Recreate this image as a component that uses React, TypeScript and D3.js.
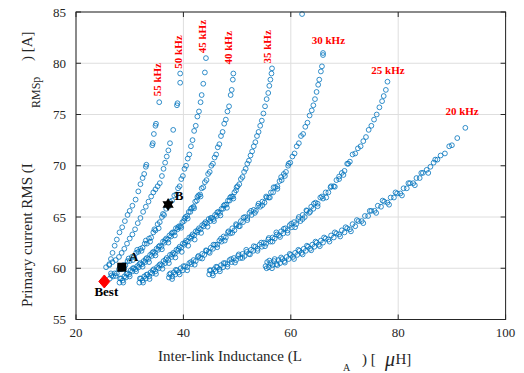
import React from 'react';
import * as d3 from 'd3';

const W = 524;
const H = 373;

const xTicks = [20, 40, 60, 80, 100];
const yTicks = [55, 60, 65, 70, 75, 80, 85];

type P = [number, number];

const f20: P[] = [
  [55.3, 60.2], [55.6, 60.6], [55.9, 60.1], [56.2, 60.5], [56.6, 60.3], [56.9, 60.7], [57.3, 60.4], [57.7, 60.8],
  [58.0, 60.5], [58.4, 60.9], [58.8, 60.7], [59.2, 61.1], [59.6, 60.9], [60.0, 61.3], [60.4, 61.1], [60.8, 61.5],
  [61.2, 61.3], [61.6, 61.7], [62.0, 61.5], [62.4, 61.9], [62.8, 61.7], [63.2, 62.1], [63.6, 61.9], [64.0, 62.3],
  [64.4, 62.1], [64.8, 62.5], [65.2, 62.3], [65.6, 62.7], [66.0, 62.5], [66.5, 62.9], [67.0, 62.8], [67.5, 63.2],
  [68.0, 63.0], [68.5, 63.4], [69.0, 63.3], [69.5, 63.7], [70.0, 63.5], [70.5, 63.9], [71.0, 63.8], [71.5, 64.3],
  [72.0, 64.1], [72.6, 64.6], [73.2, 64.6], [73.8, 65.1], [74.4, 65.1], [75.0, 65.6], [75.6, 65.6], [76.2, 66.1],
  [76.8, 66.0], [77.4, 66.5], [78.0, 66.4], [78.6, 66.9], [79.2, 66.9], [79.8, 67.3], [80.4, 67.3], [81.0, 67.8],
  [81.6, 67.8], [82.2, 68.3], [82.8, 68.3], [83.4, 68.8], [84.0, 68.8], [84.6, 69.3], [85.3, 69.6], [86.0, 69.9],
  [86.6, 70.3], [87.3, 70.6], [87.9, 71.0], [88.7, 71.2], [89.5, 71.9], [90.0, 72.0], [91.0, 72.7], [92.5, 73.7],
  [55.5, 60.0], [56.0, 60.75], [56.5, 60.0], [57.0, 60.9], [57.5, 60.3], [58.2, 61.05], [58.9, 60.55], [59.8, 61.4],
  [60.6, 60.9], [61.4, 61.8], [62.2, 61.35], [63.0, 62.2], [63.8, 61.75], [64.6, 62.6], [65.4, 62.15], [66.2, 63.0],
  [67.2, 62.6], [68.2, 63.5], [69.2, 63.1], [70.2, 64.0], [71.2, 63.6], [72.3, 64.7], [73.5, 64.4], [74.7, 65.6],
  [75.9, 65.4], [77.1, 66.6], [78.3, 66.2], [79.5, 67.4], [80.7, 67.1], [81.9, 68.3], [83.1, 68.1], [84.3, 69.3],
  [85.6, 69.3], [86.9, 70.6],
];

const f25: P[] = [
  [44.8, 59.4], [45.1, 59.8], [45.4, 59.5], [45.7, 59.9], [46.0, 59.7], [46.3, 60.1], [46.7, 59.9], [47.0, 60.3],
  [47.4, 60.1], [47.8, 60.5], [48.2, 60.4], [48.6, 60.8], [49.0, 60.6], [49.4, 61.0], [49.8, 60.8], [50.2, 61.2],
  [50.6, 61.0], [51.0, 61.4], [51.4, 61.2], [51.8, 61.6], [52.2, 61.4], [52.6, 61.8], [53.0, 61.7], [53.4, 62.1],
  [53.8, 61.9], [54.2, 62.3], [54.6, 62.1], [55.0, 62.5], [55.4, 62.4], [55.8, 62.8], [56.2, 62.6], [56.6, 63.0],
  [57.0, 62.9], [57.4, 63.3], [57.8, 63.2], [58.2, 63.6], [58.6, 63.4], [59.0, 63.9], [59.4, 63.7], [59.8, 64.2],
  [60.2, 64.0], [60.6, 64.5], [61.0, 64.3], [61.4, 64.8], [61.8, 64.6], [62.2, 65.2], [62.6, 65.0], [63.0, 65.6],
  [63.4, 65.4], [63.8, 66.0], [64.2, 65.8], [64.6, 66.4], [65.0, 66.3], [65.5, 66.9], [66.0, 66.8], [66.5, 67.4],
  [67.0, 67.4], [67.5, 68.0], [68.0, 68.0], [68.5, 68.6], [69.0, 68.7], [69.5, 69.3], [70.0, 69.5], [70.5, 70.2],
  [71.0, 70.4], [71.5, 71.1], [72.0, 71.2], [72.5, 71.7], [73.0, 71.9], [73.5, 72.4], [74.0, 72.8], [74.5, 73.5],
  [75.0, 73.9], [75.5, 74.5], [76.0, 75.0], [76.5, 75.7], [77.0, 76.3], [77.3, 76.8], [77.7, 77.4], [78.0, 78.2],
  [44.9, 59.8], [45.5, 59.3], [46.1, 60.15], [46.8, 59.7], [47.5, 60.5], [48.2, 60.15], [48.9, 60.9], [49.6, 60.55],
  [50.3, 61.35], [51.0, 61.0], [51.7, 61.8], [52.4, 61.35], [53.1, 62.15], [53.8, 61.7], [54.5, 62.5], [55.2, 62.15],
  [55.9, 62.95], [56.6, 62.6], [57.3, 63.5], [58.0, 63.05], [58.7, 63.85], [59.4, 63.45], [60.1, 64.35], [60.8, 64.0],
  [61.5, 65.0], [62.2, 64.8], [62.9, 65.65], [63.6, 65.5], [64.3, 66.3], [65.0, 66.05], [65.8, 67.0], [66.6, 66.9],
  [67.4, 67.9], [68.2, 67.95], [69.0, 68.95], [69.8, 69.1], [70.7, 70.2],
];

const f30: P[] = [
  [37.3, 59.1], [37.6, 59.5], [37.9, 59.2], [38.2, 59.6], [38.5, 59.4], [38.8, 59.8], [39.1, 59.6], [39.5, 60.0],
  [39.9, 59.8], [40.3, 60.2], [40.7, 60.1], [41.1, 60.5], [41.5, 60.4], [41.9, 60.8], [42.3, 60.7], [42.7, 61.1],
  [43.1, 61.0], [43.5, 61.4], [43.9, 61.3], [44.3, 61.7], [44.7, 61.6], [45.1, 62.0], [45.5, 61.9], [45.9, 62.3],
  [46.3, 62.3], [46.7, 62.7], [47.1, 62.6], [47.5, 63.1], [47.9, 63.0], [48.3, 63.5], [48.7, 63.4], [49.1, 63.9],
  [49.5, 63.7], [49.9, 64.2], [50.3, 64.1], [50.7, 64.6], [51.1, 64.5], [51.5, 65.0], [51.9, 64.9], [52.3, 65.4],
  [52.7, 65.2], [53.1, 65.7], [53.5, 65.6], [53.9, 66.1], [54.3, 66.0], [54.7, 66.5], [55.1, 66.4], [55.5, 66.9],
  [55.9, 66.9], [56.3, 67.4], [56.7, 67.4], [57.1, 67.9], [57.5, 68.0], [57.9, 68.5], [58.3, 68.6], [58.7, 69.2],
  [59.1, 69.4], [59.5, 70.0], [59.9, 70.3], [60.3, 70.9], [60.7, 71.2], [61.1, 71.9], [61.5, 72.2], [61.9, 72.9],
  [62.3, 73.1], [62.7, 73.8], [63.1, 74.2], [63.5, 74.9], [63.9, 75.4], [64.2, 75.9], [64.5, 76.5], [64.8, 77.2],
  [65.1, 77.9], [65.3, 78.4], [65.6, 79.2], [65.8, 79.7], [66.0, 80.8], [66.0, 81.0], [62.1, 84.8],
  [37.4, 59.4], [37.9, 58.95], [38.6, 59.85], [39.3, 59.4], [40.0, 60.2], [40.7, 59.8], [41.4, 60.6], [42.1, 60.35],
  [42.8, 61.2], [43.5, 60.95], [44.2, 61.75], [44.9, 61.5], [45.6, 62.3], [46.3, 62.05], [47.0, 62.9], [47.7, 62.7],
  [48.4, 63.6], [49.1, 63.45], [49.8, 64.3], [50.5, 64.1], [51.2, 64.95], [51.9, 64.7], [52.6, 65.6], [53.3, 65.4],
  [54.0, 66.3], [54.7, 66.15], [55.4, 67.0], [56.1, 66.9], [56.8, 67.9], [57.5, 67.75], [58.2, 68.9], [58.9, 69.0],
  [59.6, 70.2],
];

const f35: P[] = [
  [31.8, 58.6], [32.1, 59.0], [32.4, 58.8], [32.7, 59.2], [33.0, 59.0], [33.3, 59.4], [33.6, 59.2], [33.9, 59.6],
  [34.2, 59.5], [34.5, 59.9], [34.8, 59.7], [35.1, 60.1], [35.4, 60.0], [35.7, 60.4], [36.0, 60.3], [36.3, 60.7],
  [36.6, 60.5], [36.9, 61.0], [37.2, 60.8], [37.5, 61.3], [37.8, 61.1], [38.1, 61.5], [38.4, 61.4], [38.7, 61.8],
  [39.0, 61.7], [39.3, 62.1], [39.6, 62.0], [39.9, 62.4], [40.2, 62.3], [40.5, 62.7], [40.8, 62.6], [41.1, 63.0],
  [41.4, 62.9], [41.7, 63.3], [42.0, 63.2], [42.3, 63.6], [42.6, 63.5], [42.9, 63.9], [43.2, 63.8], [43.5, 64.2],
  [43.8, 64.1], [44.1, 64.5], [44.4, 64.4], [44.7, 64.8], [45.0, 64.6], [45.3, 64.9], [45.6, 64.8], [45.9, 65.2],
  [46.2, 65.1], [46.5, 65.5], [46.8, 65.4], [47.1, 65.8], [47.4, 65.8], [47.7, 66.2], [48.0, 66.2], [48.3, 66.6],
  [48.6, 66.6], [48.9, 67.0], [49.2, 67.0], [49.5, 67.4], [49.8, 67.6], [50.1, 68.0], [50.4, 68.2], [50.7, 68.7],
  [51.0, 68.9], [51.3, 69.4], [51.6, 69.7], [51.9, 70.2], [52.2, 70.5], [52.5, 71.0], [52.8, 71.4], [53.1, 71.9],
  [53.4, 72.3], [53.7, 72.9], [54.0, 73.3], [54.3, 73.9], [54.6, 74.4], [54.9, 75.1], [55.2, 75.8], [55.5, 76.5],
  [55.8, 77.1], [56.0, 77.8], [56.2, 78.4], [56.4, 79.0], [56.5, 79.5],
  [31.9, 59.0], [32.5, 58.6], [33.1, 59.35], [33.7, 58.95], [34.3, 59.8], [34.9, 59.45], [35.5, 60.3], [36.1, 59.95],
  [36.7, 60.85], [37.3, 60.5], [37.9, 61.35], [38.5, 61.05], [39.1, 61.9], [39.7, 61.6], [40.3, 62.5], [40.9, 62.2],
  [41.5, 63.1], [42.1, 62.8], [42.7, 63.7], [43.3, 63.45], [43.9, 64.35], [44.5, 64.05], [45.1, 64.9], [45.7, 64.6],
  [46.3, 65.45], [46.9, 65.15], [47.5, 66.1], [48.1, 65.9], [48.7, 66.9], [49.3, 66.8], [49.9, 67.9],
];

const f40: P[] = [
  [28.1, 58.6], [28.4, 59.0], [28.7, 58.8], [29.0, 59.2], [29.3, 59.1], [29.6, 59.5], [29.9, 59.4], [30.2, 59.8],
  [30.5, 59.7], [30.8, 60.0], [31.1, 59.9], [31.4, 60.2], [31.7, 60.1], [32.0, 60.5], [32.3, 60.4], [32.6, 60.7],
  [32.9, 60.6], [33.2, 61.0], [33.5, 60.9], [33.8, 61.3], [34.1, 61.2], [34.4, 61.6], [34.7, 61.5], [35.0, 61.9],
  [35.3, 61.8], [35.6, 62.2], [35.9, 62.1], [36.2, 62.6], [36.5, 62.5], [36.8, 62.9], [37.1, 62.8], [37.4, 63.2],
  [37.7, 63.1], [38.0, 63.5], [38.3, 63.5], [38.6, 63.9], [38.9, 63.8], [39.2, 64.1], [39.5, 64.1], [39.8, 64.5],
  [40.1, 64.6], [40.4, 65.0], [40.7, 65.1], [41.0, 65.5], [41.3, 65.5], [41.6, 65.9], [41.9, 66.0], [42.2, 66.5],
  [42.5, 66.6], [42.8, 67.1], [43.1, 67.2], [43.4, 67.8], [43.7, 67.9], [44.0, 68.4], [44.3, 68.6], [44.6, 69.2],
  [44.9, 69.4], [45.2, 70.0], [45.5, 70.2], [45.8, 70.8], [46.1, 71.1], [46.4, 71.8], [46.7, 72.1], [47.0, 72.9],
  [47.3, 73.3], [47.6, 74.1], [47.9, 74.5], [48.2, 75.3], [48.5, 75.8], [48.8, 76.9], [49.0, 77.4], [49.2, 78.4],
  [49.3, 79.0],
  [28.2, 59.0], [28.8, 58.6], [29.4, 59.45], [30.0, 59.2], [30.6, 60.0], [31.2, 59.7], [31.8, 60.4], [32.4, 60.15],
  [33.0, 60.9], [33.6, 60.6], [34.2, 61.5], [34.8, 61.25], [35.4, 62.1], [36.0, 61.85], [36.6, 62.75], [37.2, 62.5],
  [37.8, 63.4], [38.4, 63.2], [39.0, 64.0], [39.6, 63.95], [40.2, 64.85], [40.8, 64.85], [41.4, 65.8], [42.0, 65.85],
  [42.6, 66.95], [43.2, 67.0],
];

const f45: P[] = [
  [26.3, 59.0], [26.6, 59.3], [26.9, 59.2], [27.2, 59.5], [27.6, 59.5], [28.0, 59.9], [28.4, 59.9], [28.8, 60.3],
  [29.2, 60.3], [29.6, 60.7], [30.0, 60.7], [30.4, 61.1], [30.8, 61.1], [31.2, 61.5], [31.6, 61.6], [32.0, 61.9],
  [32.4, 62.0], [32.8, 62.4], [33.2, 62.4], [33.6, 62.9], [34.0, 63.0], [34.4, 63.5], [34.8, 63.7], [35.2, 64.3],
  [35.6, 64.5], [36.0, 65.0], [36.4, 65.2], [36.8, 65.8], [37.2, 66.0], [37.5, 66.5], [37.9, 66.6], [38.3, 67.1],
  [38.7, 67.2], [39.0, 67.8], [39.3, 68.0], [39.6, 68.7], [39.9, 69.0], [40.2, 69.7], [40.5, 70.0], [40.8, 70.7],
  [41.1, 71.1], [41.4, 71.9], [41.7, 72.5], [42.0, 73.4], [42.3, 73.9], [42.6, 74.8], [42.9, 75.3], [43.2, 76.2],
  [43.4, 76.9], [43.7, 78.0], [44.0, 79.1], [44.2, 80.5],
  [26.5, 59.5], [27.4, 59.25], [28.2, 60.15], [29.0, 60.0], [29.8, 60.95], [30.6, 60.8], [31.4, 61.8], [32.2, 61.7],
  [33.0, 62.7], [33.8, 62.6], [34.6, 63.8], [35.4, 63.9], [36.2, 65.3],
];

const f50: P[] = [
  [25.6, 60.1], [26.2, 60.4], [26.8, 60.6], [27.4, 60.8], [28.0, 61.1], [28.5, 61.5], [29.0, 61.9], [29.5, 62.4],
  [30.0, 62.9], [30.5, 63.3], [31.0, 63.8], [31.5, 64.4], [32.0, 64.9], [32.5, 65.5], [33.0, 66.0], [33.5, 66.5],
  [34.0, 67.0], [34.4, 67.4], [34.8, 67.7], [35.2, 68.0], [35.6, 68.3], [36.0, 69.0], [36.3, 69.7], [36.6, 70.3],
  [36.9, 70.9], [37.2, 71.5], [37.5, 72.2], [38.1, 73.5], [38.8, 75.9], [38.9, 76.1], [39.4, 78.1], [39.4, 79.0],
];

const f55: P[] = [
  [26.2, 60.3], [26.5, 60.9], [26.8, 61.5], [27.2, 62.2], [27.6, 62.8], [28.1, 63.5], [28.6, 64.0], [29.1, 64.6],
  [29.6, 65.2], [30.0, 65.6], [30.5, 66.1], [31.1, 66.7], [31.6, 67.5], [32.0, 68.2], [32.4, 68.8], [32.7, 69.2],
  [33.0, 69.9], [33.1, 70.1], [34.2, 72.0], [34.3, 72.2], [34.5, 73.1], [34.8, 73.9], [34.9, 74.1], [35.5, 76.2],
];

const series: P[][] = [f20, f25, f30, f35, f40, f45, f50, f55];

const freqNames = ['20 kHz', '25 kHz', '30 kHz', '35 kHz', '40 kHz', '45 kHz', '50 kHz', '55 kHz'];
const freqLabelL = [91.9, 78.1, 67.0, 55.66, 48.27, 43.43, 39.07, 35.0];
const freqLabelI = [75.3, 79.35, 82.3, 81.6, 81.5, 82.6, 81.1, 78.4];
const freqLabelVertical = [false, false, false, true, true, true, true, true];

const pointNames = ['Best', 'A', 'B'];
const pointL = [25.27, 28.52, 37.15];
const pointI = [58.71, 60.1, 66.21];

const BLUE = '#0072BD';
const AXIS = '#262626';

function hexagram(cx: number, cy: number, R: number) {
  const r = R / Math.sqrt(3);
  const pts: string[] = [];
  for (let i = 0; i < 12; i++) {
    const a = -Math.PI / 2 + (i * Math.PI) / 6;
    const rr = i % 2 === 0 ? R : r;
    pts.push(`${cx + rr * Math.cos(a)},${cy + rr * Math.sin(a)}`);
  }
  return 'M' + pts.join('L') + 'Z';
}

export default function App() {
  const x = d3.scaleLinear().domain([20, 100]).range([76, 505.6]);
  const y = d3.scaleLinear().domain([55, 85]).range([319.5, 12]);
  const [x0, x1] = x.range();
  const [y0, y1] = y.range();
  const tickLen = 5;

  const bx = x(pointL[0]);
  const by = y(pointI[0]);
  const ax = x(pointL[1]);
  const ay = y(pointI[1]);
  const bbx = x(pointL[2]);
  const bby = y(pointI[2]);

  return (
    <div style={{ position: 'absolute', left: 0, top: 0 }}>
      <svg
        width={W}
        height={H}
        style={{ display: 'block', background: '#fff' }}
        fontFamily="'Liberation Serif', 'Times New Roman', serif"
      >
        {/* grid */}
        {xTicks.map((t) => (
          <line key={'gx' + t} x1={x(t)} x2={x(t)} y1={y1} y2={y0} stroke="#dedede" strokeWidth={1} />
        ))}
        {yTicks.map((t) => (
          <line key={'gy' + t} x1={x0} x2={x1} y1={y(t)} y2={y(t)} stroke="#dedede" strokeWidth={1} />
        ))}

        {/* scatter */}
        <g fill="none" stroke={BLUE} strokeWidth={0.8}>
          {series.map((s, si) =>
            s.map((p, i) => <circle key={si + '-' + i} cx={x(p[0])} cy={y(p[1])} r={2.4} />)
          )}
        </g>

        {/* box */}
        <rect x={x0} y={y1} width={x1 - x0} height={y0 - y1} fill="none" stroke={AXIS} strokeWidth={1} />
        {xTicks.map((t) => (
          <g key={'tx' + t} stroke={AXIS}>
            <line x1={x(t)} x2={x(t)} y1={y0} y2={y0 - tickLen} />
            <line x1={x(t)} x2={x(t)} y1={y1} y2={y1 + tickLen} />
          </g>
        ))}
        {yTicks.map((t) => (
          <g key={'ty' + t} stroke={AXIS}>
            <line x1={x0} x2={x0 + tickLen} y1={y(t)} y2={y(t)} />
            <line x1={x1} x2={x1 - tickLen} y1={y(t)} y2={y(t)} />
          </g>
        ))}

        {/* tick labels */}
        {xTicks.map((t) => (
          <text key={'lx' + t} x={x(t)} y={y0 + 17} textAnchor="middle" fontSize={13} fill={AXIS}>
            {t}
          </text>
        ))}
        {yTicks.map((t) => (
          <text key={'ly' + t} x={x0 - 10} y={y(t) + 4.5} textAnchor="end" fontSize={13} fill={AXIS}>
            {t}
          </text>
        ))}

        {/* x label */}
        <text x={158} y={361} fontSize={15} fill={AXIS}>Inter-link Inductance (L</text>
        <text x={343} y={371} fontSize={10} fill={AXIS}>A</text>
        <text x={362} y={364} fontSize={15} fill={AXIS} style={{ whiteSpace: 'pre' }}>{') [ '}</text>
        <text x={385} y={366} fontSize={20} fontStyle="italic" fill={AXIS}>μ</text>
        <text x={395.5} y={364} fontSize={15} fill={AXIS}>H]</text>

        {/* y label */}
        <text transform="translate(32,307) rotate(-90)" fontSize={15} fill={AXIS}>Primary current RMS (I</text>
        <text transform="translate(40,108) rotate(-90)" fontSize={12} fill={AXIS}>RMSp</text>
        <text transform="translate(32,61) rotate(-90)" fontSize={15} fill={AXIS} style={{ whiteSpace: 'pre' }}>{') [A]'}</text>

        {/* frequency labels */}
        {freqNames.map((n, i) => {
          const lx = x(freqLabelL[i]);
          const ly = y(freqLabelI[i]);
          return (
            <text
              key={n}
              transform={freqLabelVertical[i] ? `translate(${lx},${ly}) rotate(-90)` : `translate(${lx},${ly})`}
              textAnchor="middle"
              dominantBaseline="central"
              fontSize={11}
              fontWeight="bold"
              fill="#ff0000"
            >
              {n}
            </text>
          );
        })}

        {/* special points */}
        <path d={`M${bx},${by - 6.5}L${bx + 5.5},${by}L${bx},${by + 6.5}L${bx - 5.5},${by}Z`} fill="#ff0000" stroke="#ff0000" />
        <rect x={ax - 4.5} y={ay - 4.5} width={9} height={9} fill="#000" />
        <path d={hexagram(bbx, bby, 6.5)} fill="#000" />
        <text x={bx + 2} y={by + 15} textAnchor="middle" fontSize={13} fontWeight="bold" fill="#000">{pointNames[0]}</text>
        <text x={ax + 12} y={ay - 6} textAnchor="middle" fontSize={13} fontWeight="bold" fill="#000">{pointNames[1]}</text>
        <text x={bbx + 11} y={bby - 5} textAnchor="middle" fontSize={13} fontWeight="bold" fill="#000">{pointNames[2]}</text>
      </svg>
    </div>
  );
}
